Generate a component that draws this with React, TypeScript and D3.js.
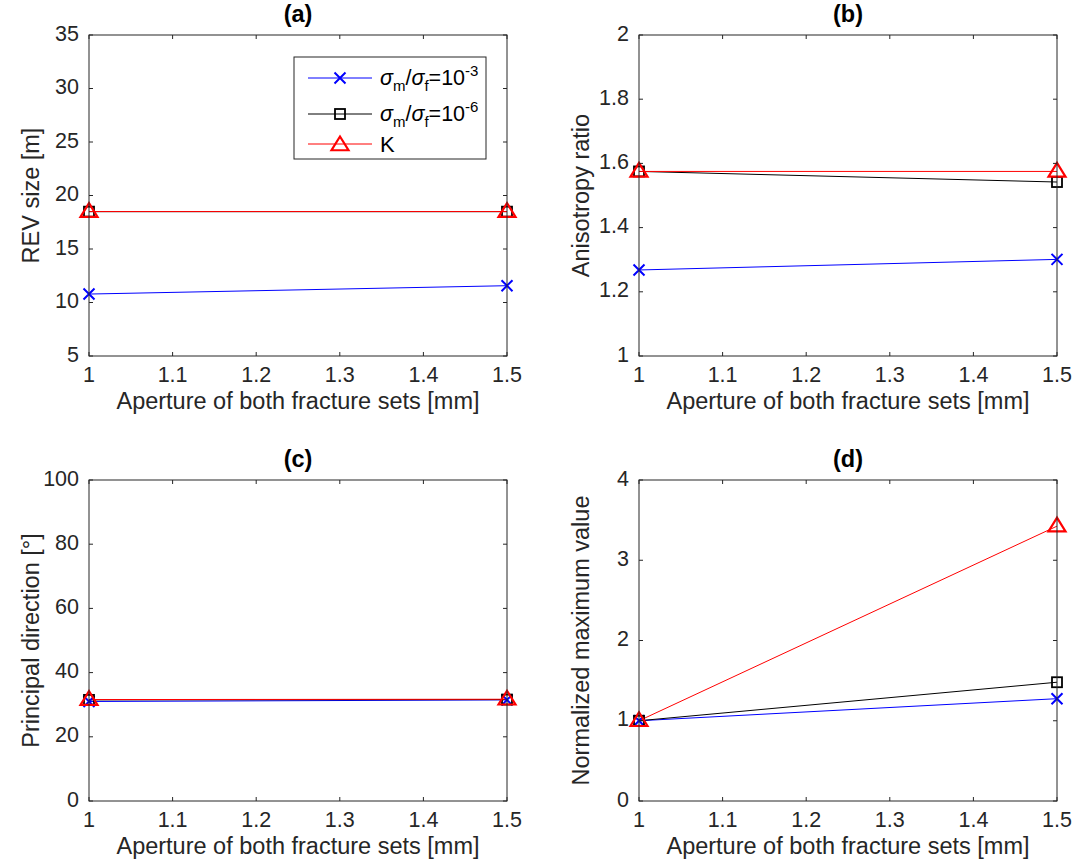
import React from "react";
import * as d3 from "d3";

const apertures = [1, 1.5];
const xTicks = [1, 1.1, 1.2, 1.3, 1.4, 1.5];

const revBlue = [10.79, 11.57];
const revBlack = [18.49, 18.49];
const revRed = [18.5, 18.5];

const anisoBlue = [1.268, 1.301];
const anisoBlack = [1.575, 1.542];
const anisoRed = [1.575, 1.575];

const dirBlue = [31.0, 31.5];
const dirBlack = [31.5, 31.6];
const dirRed = [31.6, 31.7];

const normBlue = [1, 1.275];
const normBlack = [1, 1.48];
const normRed = [1, 3.425];

const panels = [
  { title: "(a)", ylabel: "REV size [m]", domain: [5, 35], ticks: [5, 10, 15, 20, 25, 30, 35], blue: revBlue, black: revBlack, red: revRed, x0: 89, y0: 35, legend: true },
  { title: "(b)", ylabel: "Anisotropy ratio", domain: [1, 2], ticks: [1, 1.2, 1.4, 1.6, 1.8, 2], blue: anisoBlue, black: anisoBlack, red: anisoRed, x0: 639, y0: 35, legend: false },
  { title: "(c)", ylabel: "Principal direction [\u00b0]", domain: [0, 100], ticks: [0, 20, 40, 60, 80, 100], blue: dirBlue, black: dirBlack, red: dirRed, x0: 89, y0: 480, legend: false },
  { title: "(d)", ylabel: "Normalized maximum value", domain: [0, 4], ticks: [0, 1, 2, 3, 4], blue: normBlue, black: normBlack, red: normRed, x0: 639, y0: 480, legend: false },
];

const W = 418;
const H = 321;
const AX = "#262626";
const FONT = "'Liberation Sans', Arial, Helvetica, sans-serif";
const TICK_FS = 21.5;
const LABEL_FS = 23.5;

function Cross({ x, y }: { x: number; y: number }) {
  const s = 5.5;
  return (
    <path d={`M${x - s},${y - s}L${x + s},${y + s}M${x - s},${y + s}L${x + s},${y - s}`} stroke="#0000ff" strokeWidth={2} fill="none" />
  );
}
function Square({ x, y }: { x: number; y: number }) {
  const s = 5;
  return <rect x={x - s} y={y - s} width={2 * s} height={2 * s} stroke="#000" strokeWidth={1.8} fill="none" />;
}
function Tri({ x, y }: { x: number; y: number }) {
  const s = 8.5;
  return (
    <path d={`M${x},${y - s}L${x + s},${y + s * 0.62}L${x - s},${y + s * 0.62}Z`} stroke="#ff0000" strokeWidth={2.2} fill="none" strokeLinejoin="miter" />
  );
}

function Panel(p: any) {
  const x = d3.scaleLinear().domain([1, 1.5]).range([0, W]);
  const y = d3.scaleLinear().domain(p.domain).range([H, 0]);
  const line = d3
    .line<number>()
    .x((_, i) => x(apertures[i]))
    .y((d) => y(d));
  const tl = 4;
  const fmt = (v: number) => String(+v.toFixed(2));
  return (
    <g transform={`translate(${p.x0},${p.y0})`} fontFamily={FONT}>
      <rect x={0} y={0} width={W} height={H} fill="#fff" />
      <path d={line(p.blue) || ""} stroke="#0000ff" strokeWidth={1} fill="none" />
      <path d={line(p.black) || ""} stroke="#000" strokeWidth={1} fill="none" />
      <path d={line(p.red) || ""} stroke="#ff0000" strokeWidth={1} fill="none" />
      {p.blue.map((v: number, i: number) => <Cross key={"b" + i} x={x(apertures[i])} y={y(v)} />)}
      {p.black.map((v: number, i: number) => <Square key={"k" + i} x={x(apertures[i])} y={y(v)} />)}
      {p.red.map((v: number, i: number) => <Tri key={"r" + i} x={x(apertures[i])} y={y(v)} />)}
      <rect x={0} y={0} width={W} height={H} fill="none" stroke={AX} strokeWidth={1} />
      {xTicks.map((t) => (
        <g key={"x" + t}>
          <line x1={x(t)} x2={x(t)} y1={H} y2={H - tl} stroke={AX} />
          <line x1={x(t)} x2={x(t)} y1={0} y2={tl} stroke={AX} />
          <text x={x(t)} y={H + 20} textAnchor="middle" dominantBaseline="middle" fontSize={TICK_FS} fill={AX}>{fmt(t)}</text>
        </g>
      ))}
      {p.ticks.map((t: number) => (
        <g key={"y" + t}>
          <line x1={0} x2={tl} y1={y(t)} y2={y(t)} stroke={AX} />
          <line x1={W} x2={W - tl} y1={y(t)} y2={y(t)} stroke={AX} />
          <text x={-10} y={y(t)} textAnchor="end" dominantBaseline="middle" fontSize={TICK_FS} fill={AX}>{fmt(t)}</text>
        </g>
      ))}
      <text x={W / 2} y={H + 46.5} textAnchor="middle" dominantBaseline="middle" fontSize={LABEL_FS} fill={AX}>Aperture of both fracture sets [mm]</text>
      <text transform={`translate(-56,${H / 2}) rotate(-90)`} textAnchor="middle" dominantBaseline="middle" fontSize={LABEL_FS} fill={AX}>{p.ylabel}</text>
      <text x={W / 2} y={-19} textAnchor="middle" dominantBaseline="middle" fontSize={LABEL_FS} fontWeight="bold" fill="#000">{p.title}</text>
      {p.legend && <Legend />}
    </g>
  );
}

const legendLabels = ["-3", "-6"];

function Legend() {
  const lx = 205;
  const ly = 22;
  const rows = [43, 79, 109];
  return (
    <g>
      <rect x={lx} y={ly} width={192} height={102} fill="#fff" stroke={AX} strokeWidth={1} />
      <line x1={lx + 14} x2={lx + 78} y1={rows[0]} y2={rows[0]} stroke="#0000ff" />
      <Cross x={lx + 46} y={rows[0]} />
      <line x1={lx + 14} x2={lx + 78} y1={rows[1]} y2={rows[1]} stroke="#000" />
      <Square x={lx + 46} y={rows[1]} />
      <line x1={lx + 14} x2={lx + 78} y1={rows[2]} y2={rows[2]} stroke="#ff0000" />
      <Tri x={lx + 46} y={rows[2] + 1} />
      {legendLabels.map((e, i) => (
        <text key={e} x={lx + 86} y={rows[i] + 7} fontSize={21.5} fill="#000">
          <tspan fontStyle="italic">σ</tspan>
          <tspan fontSize={15} dy={6}>m</tspan>
          <tspan dy={-6}>/</tspan>
          <tspan fontStyle="italic">σ</tspan>
          <tspan fontSize={15} dy={6}>f</tspan>
          <tspan dy={-6}>=10</tspan>
          <tspan fontSize={15} dy={-9}>{e}</tspan>
        </text>
      ))}
      <text x={lx + 86} y={rows[2] + 8} fontSize={22} fill="#000">K</text>
    </g>
  );
}

export default function App() {
  return (
    <svg width={1075} height={863} style={{ position: "absolute", left: 0, top: 0, background: "#fff" }}>
      <rect width={1075} height={863} fill="#fff" />
      {panels.map((p) => (
        <Panel key={p.title} {...p} />
      ))}
    </svg>
  );
}
